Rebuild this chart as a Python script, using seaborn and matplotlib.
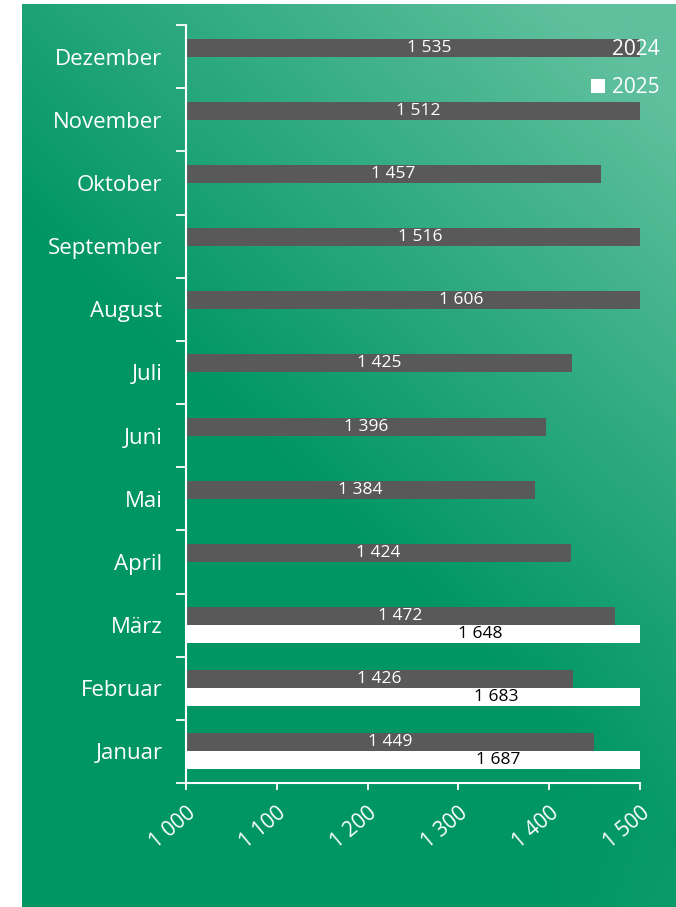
import matplotlib
matplotlib.use("Agg")
import matplotlib.pyplot as plt
import seaborn as sns
import pandas as pd
import numpy as np

months = ["Januar", "Februar", "März", "April", "Mai", "Juni", "Juli",
          "August", "September", "Oktober", "November", "Dezember"]
values_2024 = [1449, 1426, 1472, 1424, 1384, 1396, 1425, 1606, 1516, 1457, 1512, 1535]
values_2025 = [1687, 1683, 1648]
years = ["2024", "2025"]
x_ticks = [1000, 1100, 1200, 1300, 1400, 1500]

# long format, top row = Dezember
rows = []
for m, v in zip(months, values_2024):
    rows.append({"Monat": m, "Jahr": "2024", "Wert": v})
for m, v in zip(months, values_2025):
    rows.append({"Monat": m, "Jahr": "2025", "Wert": v})
df = pd.DataFrame(rows)
order = months[::-1]

sns.set_style("ticks")
plt.rcParams["font.family"] = ["Open Sans", "DejaVu Sans"]

W, H = 676, 907
fig = plt.figure(figsize=(W / 100, H / 100), dpi=100, facecolor="white")

# green gradient panel
bg = fig.add_axes([22 / W, 0, 1 - 22 / W, 1 - 4 / H])
gx, gy = np.meshgrid(np.linspace(0, 1, 300), np.linspace(1, 0, 400))
t = np.clip(0.85 * gx + 1.25 * gy - 0.95, 0, 1) + 0.12 * np.clip(gx - 0.8, 0, 1) / 0.2 * np.clip(0.3 - gy, 0, 1) / 0.3
t = np.clip(t, 0, 1)
dark = np.array([0, 150, 100]) / 255
light = np.array([96, 192, 158]) / 255
img = dark[None, None, :] * (1 - t[..., None]) + light[None, None, :] * t[..., None]
bg.imshow(img, aspect="auto", extent=(0, 1, 0, 1))
bg.axis("off")

ax = fig.add_axes([186 / W, 1 - 783 / H, (640 - 186) / W, (783 - 25) / H])
ax.patch.set_alpha(0)
sns.barplot(data=df, y="Monat", x="Wert", hue="Jahr", order=order, hue_order=years,
            palette={"2024": "#595959", "2025": "#ffffff"}, width=0.57,
            orient="h", ax=ax, linewidth=0)

ax.set_xlim(1000, 1500)
ax.set_ylim(len(order) - 0.5, -0.5)
ax.set_xticks(x_ticks)
ax.set_xticklabels([f"{v:,}".replace(",", " ") for v in x_ticks],
                   rotation=40, ha="right", rotation_mode="anchor",
                   fontsize=15, color="white")
ax.set_yticks(range(len(order)))
ax.set_yticklabels(order, fontsize=16, color="white")
ax.set_yticks(np.arange(-0.5, len(order), 1), minor=True)
ax.tick_params(axis="y", which="major", left=True, length=0, pad=17)
ax.tick_params(axis="y", which="minor", left=True, length=7, width=1.3, color="white", direction="out")
ax.tick_params(axis="x", which="major", bottom=True, length=5, width=1.3, color="white", direction="out", pad=9)
ax.set_xlabel("")
ax.set_ylabel("")
for s in ["top", "right"]:
    ax.spines[s].set_visible(False)
for s in ["left", "bottom"]:
    ax.spines[s].set_color("white")
    ax.spines[s].set_linewidth(1.5)

# value labels centred on the bar between 1000 and its value
for cont, col in zip(ax.containers, ["white", "black"]):
    for p in cont.patches:
        w = p.get_width()
        if not np.isfinite(w) or w <= 0:
            continue
        xc = (1000 + w) / 2
        yc = p.get_y() + p.get_height() / 2
        ax.text(xc, yc, f"{int(round(w)):,}".replace(",", " "), ha="center", va="center",
                fontsize=12.5, color=col)

sns.move_legend(ax, "upper right", bbox_to_anchor=(1.003, 0.978),
                bbox_transform=fig.transFigure, frameon=False, title=None,
                fontsize=15, labelcolor="white", labelspacing=0.85,
                handlelength=0.7, handleheight=0.7, handletextpad=0.3)
for h in ax.get_legend().legend_handles:
    h.set_edgecolor("none")

fig.savefig("out.png", dpi=100, facecolor="white")
